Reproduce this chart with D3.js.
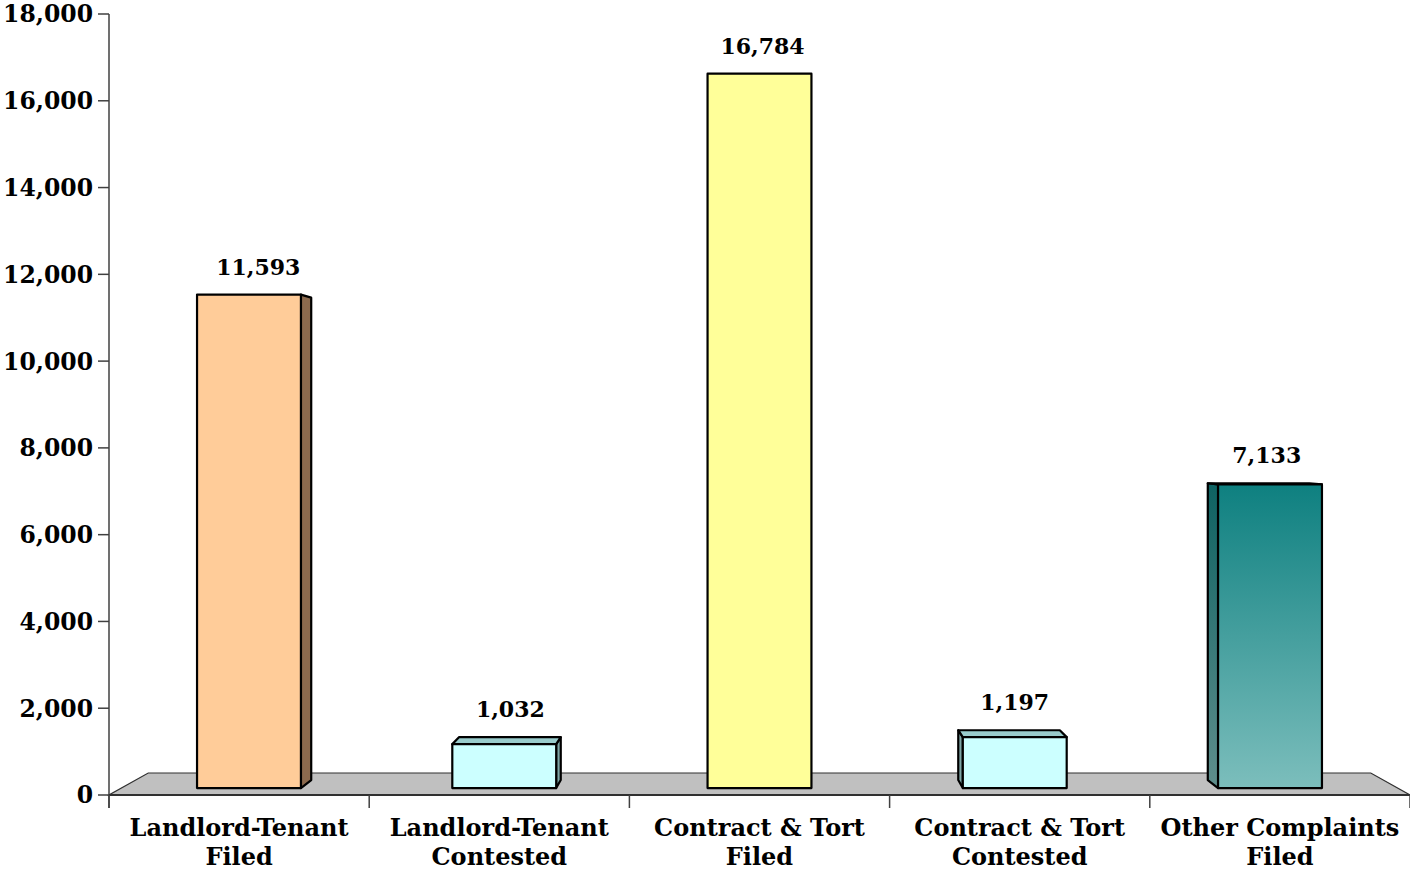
<!DOCTYPE html>
<html>
<head>
<meta charset="utf-8">
<script src="https://cdn.jsdelivr.net/npm/d3@7"></script>
<style>
  html, body { margin: 0; padding: 0; background: #fff; }
  svg { display: block; }
  text { font-family: "DejaVu Serif", "Liberation Serif", serif; font-weight: bold; fill: #000; }
</style>
</head>
<body>
<svg id="chart" width="1410" height="871"></svg>
<script>
const categories = [
  ["Landlord-Tenant", "Filed"],
  ["Landlord-Tenant", "Contested"],
  ["Contract & Tort", "Filed"],
  ["Contract & Tort", "Contested"],
  ["Other Complaints", "Filed"]
];
const values = [11593, 1032, 16784, 1197, 7133];
const yTicks = [0, 2000, 4000, 6000, 8000, 10000, 12000, 14000, 16000, 18000];
const frontColors = ["#FFCC99", "#CCFFFF", "#FFFF99", "#CCFFFF", "grad"];
const sideColors  = ["#8C6A4E", "#7FA6A6", "#A6A663", "#7FA6A6", "gradSide"];
const topColors   = ["#B8916B", "#99CCCC", "#CCCC7A", "#99CCCC", "#0E7A7A"];

(function () {
const svg = d3.select("#chart");
const mLeft = 109, mRight = 1410, mTop = 14, mBase = 795;

const y = d3.scaleLinear().domain([0, 18000]).range([mBase, mTop]);
const xCat = d3.scaleBand().domain(d3.range(categories.length)).range([mLeft, mRight]).padding(0);
const xBar = d3.scaleBand().domain(d3.range(categories.length)).range([mLeft, mRight])
  .paddingInner(0.593).paddingOuter(0.2965);

// perspective
const vx = (mLeft + mRight) / 2, vy = 430;
const P = (X, Y, p) => [vx + (X - vx) * p, vy + (Y - vy) * p];
const floorFront = 1, floorBack = 0.9397, barFront = 0.981, barBack = 0.959;

// gradients
const defs = svg.append("defs");
const g1 = defs.append("linearGradient").attr("id", "grad").attr("x1", 0).attr("y1", 0).attr("x2", 0).attr("y2", 1);
g1.append("stop").attr("offset", "0%").attr("stop-color", "#0E8080");
g1.append("stop").attr("offset", "100%").attr("stop-color", "#7CBEBC");
const g2 = defs.append("linearGradient").attr("id", "gradSide").attr("x1", 0).attr("y1", 0).attr("x2", 0).attr("y2", 1);
g2.append("stop").attr("offset", "0%").attr("stop-color", "#0E6262");
g2.append("stop").attr("offset", "100%").attr("stop-color", "#5F8E8C");
const fillOf = c => (c === "grad" || c === "gradSide") ? `url(#${c})` : c;

// floor
const floorPts = [P(mLeft, mBase, floorFront), P(mRight, mBase, floorFront), P(mRight, mBase, floorBack), P(mLeft, mBase, floorBack)];
svg.append("polygon").attr("points", floorPts.map(p => p.join(",")).join(" "))
  .attr("fill", "#C0C0C0").attr("stroke", "#303030").attr("stroke-width", 1.2);

// axes
svg.append("line").attr("x1", mLeft).attr("x2", mLeft).attr("y1", mTop).attr("y2", mBase + 13)
  .attr("stroke", "#404040").attr("stroke-width", 1.5);
svg.append("line").attr("x1", mLeft).attr("x2", mRight).attr("y1", mBase).attr("y2", mBase)
  .attr("stroke", "#303030").attr("stroke-width", 2);

const yAxisG = svg.append("g");
yTicks.forEach(t => {
  yAxisG.append("line").attr("x1", mLeft - 11).attr("x2", mLeft).attr("y1", y(t)).attr("y2", y(t))
    .attr("stroke", "#404040").attr("stroke-width", 1.5);
  yAxisG.append("text").attr("x", mLeft - 16).attr("y", y(t)).attr("dy", "0.36em")
    .attr("text-anchor", "end").attr("font-size", 23.5).text(d3.format(",")(t));
});

// category ticks and labels
d3.range(categories.length + 1).forEach(i => {
  const xx = i < categories.length ? xCat(i) : mRight;
  svg.append("line").attr("x1", xx).attr("x2", xx).attr("y1", mBase).attr("y2", mBase + 13)
    .attr("stroke", "#404040").attr("stroke-width", 1.5);
});
categories.forEach((c, i) => {
  const cx = xCat(i) + xCat.bandwidth() / 2;
  const t = svg.append("text").attr("x", cx).attr("y", 836).attr("text-anchor", "middle").attr("font-size", 24);
  t.append("tspan").attr("x", cx).attr("dy", 0).text(c[0]);
  t.append("tspan").attr("x", cx).attr("dy", 29).text(c[1]);
});

// bars
values.forEach((v, i) => {
  const X0 = xBar(i), X1 = xBar(i) + xBar.bandwidth();
  const Yt = y(v), Yb = y(0);
  const g = svg.append("g");
  const ft = [P(X0, Yt, barFront), P(X1, Yt, barFront), P(X1, Yb, barFront), P(X0, Yb, barFront)];
  const bk = [P(X0, Yt, barBack), P(X1, Yt, barBack), P(X1, Yb, barBack), P(X0, Yb, barBack)];
  const cxb = (X0 + X1) / 2;
  const poly = (pts, fill) => g.append("polygon").attr("points", pts.map(p => p.join(",")).join(" "))
    .attr("fill", fill).attr("stroke", "#000").attr("stroke-width", 2.2).attr("stroke-linejoin", "round");
  if (cxb < vx - 5) {
    poly([ft[1], bk[1], bk[2], ft[2]], fillOf(sideColors[i]));
  } else if (cxb > vx + 5) {
    poly([ft[0], bk[0], bk[3], ft[3]], fillOf(sideColors[i]));
  }
  if (ft[0][1] > vy) {
    poly([ft[0], ft[1], bk[1], bk[0]], topColors[i]);
  }
  poly(ft, fillOf(frontColors[i]));
  const lx = (ft[0][0] + ft[1][0]) / 2 + 3 + (vx - cxb) * 0.012;
  const ly = Math.min(ft[0][1], bk[0][1]) - 20;
  svg.append("text").attr("x", lx).attr("y", ly).attr("text-anchor", "middle").attr("font-size", 22)
    .text(d3.format(",")(v));
});
})();
</script>
</body>
</html>
